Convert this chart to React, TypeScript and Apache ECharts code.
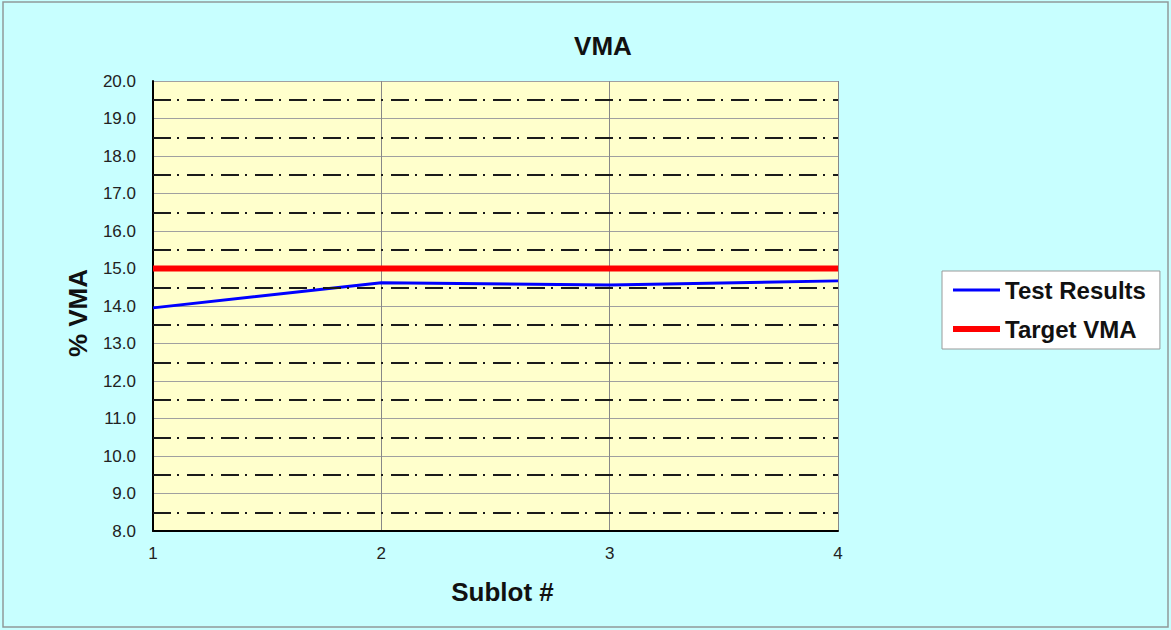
import React, { useEffect, useRef } from "react";
import * as echarts from "echarts";

const categories = ["1", "2", "3", "4"];
const testResults = [13.95, 14.62, 14.56, 14.67];
const targetVMA = [15.0, 15.0, 15.0, 15.0];
const halfLines = [8.5, 9.5, 10.5, 11.5, 12.5, 13.5, 14.5, 15.5, 16.5, 17.5, 18.5, 19.5];
const yMin = 8;
const yMax = 20;

const FONT = "'Liberation Sans', Arial, sans-serif";

export default function App() {
  const ref = useRef<HTMLDivElement>(null);
  useEffect(() => {
    document.body.style.margin = "0";
    if (!ref.current) return;
    const chart = echarts.init(ref.current, null, { renderer: "svg" });
    chart.setOption({
      animation: false,
      backgroundColor: "#c8ffff",
      textStyle: { fontFamily: FONT },
      title: {
        text: "VMA",
        left: 598,
        textAlign: "center",
        top: 28,
        textStyle: { fontFamily: FONT, fontSize: 26, fontWeight: "bold", color: "#111" },
      },
      graphic: [
        {
          type: "rect",
          shape: { x: 3, y: 2, width: 1165, height: 625 },
          style: { fill: "none", stroke: "#909a9a", lineWidth: 1.5 },
          silent: true,
        },
      ],
      legend: {
        orient: "vertical",
        left: 942,
        top: 271,
        backgroundColor: "#ffffff",
        borderColor: "#999999",
        borderWidth: 1,
        padding: [7, 14, 8, 11],
        itemGap: 15,
        itemWidth: 47,
        itemHeight: 12,
        symbolKeepAspect: true,
        textStyle: { fontFamily: FONT, fontSize: 24, fontWeight: "bold", color: "#111" },
        data: [
          { name: "Test Results", icon: "path://M0 0H47V3H0Z" },
          { name: "Target VMA", icon: "path://M0 0H47V6H0Z" },
        ],
      },
      grid: {
        left: 153,
        right: 333,
        top: 81,
        bottom: 99,
        show: true,
        backgroundColor: "#ffffcc",
        borderWidth: 0,
      },
      xAxis: {
        type: "category",
        data: categories,
        boundaryGap: false,
        name: "Sublot #",
        nameLocation: "middle",
        nameGap: 48,
        nameTextStyle: {
          fontFamily: FONT,
          fontSize: 26,
          fontWeight: "bold",
          color: "#111",
          padding: [0, 0, 0, 14],
        },
        axisLine: { lineStyle: { color: "#000", width: 2 } },
        axisTick: { show: false },
        axisLabel: { margin: 14, fontSize: 17, color: "#222", fontFamily: FONT },
        splitLine: { show: true, lineStyle: { color: "#888", width: 1 } },
      },
      yAxis: {
        type: "value",
        min: yMin,
        max: yMax,
        interval: 1,
        name: "% VMA",
        nameLocation: "middle",
        nameGap: 62,
        nameRotate: 90,
        nameTextStyle: {
          fontFamily: FONT,
          fontSize: 26,
          fontWeight: "bold",
          color: "#111",
          padding: [0, 14, 0, 0],
        },
        axisLine: { show: true, lineStyle: { color: "#000", width: 2 } },
        axisTick: { show: false },
        axisLabel: {
          margin: 17,
          fontSize: 17,
          color: "#222",
          fontFamily: FONT,
          formatter: (v: number) => v.toFixed(1),
        },
        splitLine: { show: true, lineStyle: { color: "#a0a0a0", width: 1 } },
      },
      series: [
        {
          name: "halfLines",
          type: "line",
          data: [],
          z: 1,
          silent: true,
          markLine: {
            silent: true,
            symbol: ["none", "none"],
            label: { show: false },
            lineStyle: { color: "#1a1a1a", width: 2, type: [18, 6, 2, 8] },
            data: halfLines.map((v) => ({ yAxis: v })),
          },
        },
        {
          name: "Test Results",
          type: "line",
          data: testResults,
          symbol: "none",
          z: 3,
          lineStyle: { color: "#0000ff", width: 3 },
          itemStyle: { color: "#0000ff" },
        },
        {
          name: "Target VMA",
          type: "line",
          data: targetVMA,
          symbol: "none",
          z: 4,
          lineStyle: { color: "#ff0000", width: 6 },
          itemStyle: { color: "#ff0000" },
        },
      ],
    });
    return () => chart.dispose();
  }, []);
  return <div ref={ref} style={{ width: 1171, height: 630 }} />;
}
